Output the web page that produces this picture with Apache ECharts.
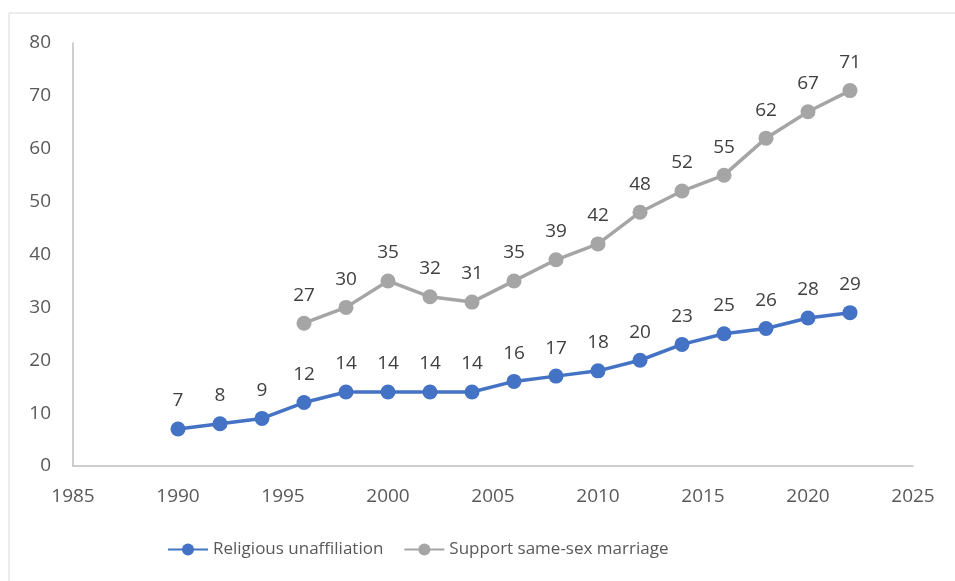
<!DOCTYPE html>
<html>
<head>
<meta charset="utf-8">
<script src="https://cdn.jsdelivr.net/npm/echarts@6/dist/echarts.min.js"></script>
<style>
  html, body { margin: 0; padding: 0; background: #fff; }
  #chart { width: 955px; height: 581px; }
</style>
</head>
<body>
<div id="chart"></div>
<script>
// Survey years and percentages for the two trends
const unaffiliatedYears = [1990, 1992, 1994, 1996, 1998, 2000, 2002, 2004, 2006, 2008, 2010, 2012, 2014, 2016, 2018, 2020, 2022];
const unaffiliatedValues = [7, 8, 9, 12, 14, 14, 14, 14, 16, 17, 18, 20, 23, 25, 26, 28, 29];
const supportYears = [1996, 1998, 2000, 2002, 2004, 2006, 2008, 2010, 2012, 2014, 2016, 2018, 2020, 2022];
const supportValues = [27, 30, 35, 32, 31, 35, 39, 42, 48, 52, 55, 62, 67, 71];
const seriesNames = ['Religious unaffiliation', 'Support same-sex marriage'];

const pairs = (xs, ys) => xs.map((x, i) => [x, ys[i]]);
const FONT = 'Open Sans, Noto Sans, sans-serif';

const chart = echarts.init(document.getElementById('chart'), null, { renderer: 'canvas' });

function lineSeries(name, data, color) {
  return {
    name: name,
    type: 'line',
    data: data,
    symbol: 'circle',
    symbolSize: 15,
    lineStyle: { color: color, width: 3.5 },
    itemStyle: { color: color },
    label: {
      show: true,
      position: 'top',
      distance: 11,
      color: '#404040',
      fontSize: 19,
      fontFamily: FONT
    },
    animation: false
  };
}

chart.setOption({
  backgroundColor: '#fff',
  graphic: [{
    type: 'rect',
    shape: { x: 9, y: 13, width: 960, height: 580 },
    style: { fill: 'none', stroke: '#d9d9d9', lineWidth: 1 },
    silent: true
  }],
  grid: { left: 73, right: 42, top: 43, bottom: 115 },
  legend: {
    top: 536,
    left: 162,
    itemGap: 20,
    itemWidth: 40,
    itemHeight: 15,
    textStyle: { color: '#595959', fontSize: 17, fontFamily: FONT },
    data: seriesNames
  },
  xAxis: {
    type: 'value',
    min: 1985,
    max: 2025,
    interval: 5,
    axisLine: { show: true, lineStyle: { color: '#bfbfbf', width: 1.5 } },
    axisTick: { show: false },
    splitLine: { show: false },
    axisLabel: {
      color: '#595959', fontSize: 19, fontFamily: FONT, margin: 21,
      formatter: v => String(v)
    }
  },
  yAxis: {
    type: 'value',
    min: 0,
    max: 80,
    interval: 10,
    axisLine: { show: true, lineStyle: { color: '#bfbfbf', width: 1.5 } },
    axisTick: { show: false },
    splitLine: { show: false },
    axisLabel: { color: '#595959', fontSize: 19, fontFamily: FONT, margin: 22 }
  },
  series: [
    lineSeries(seriesNames[0], pairs(unaffiliatedYears, unaffiliatedValues), '#4472C4'),
    lineSeries(seriesNames[1], pairs(supportYears, supportValues), '#A5A5A5')
  ]
});
</script>
</body>
</html>
